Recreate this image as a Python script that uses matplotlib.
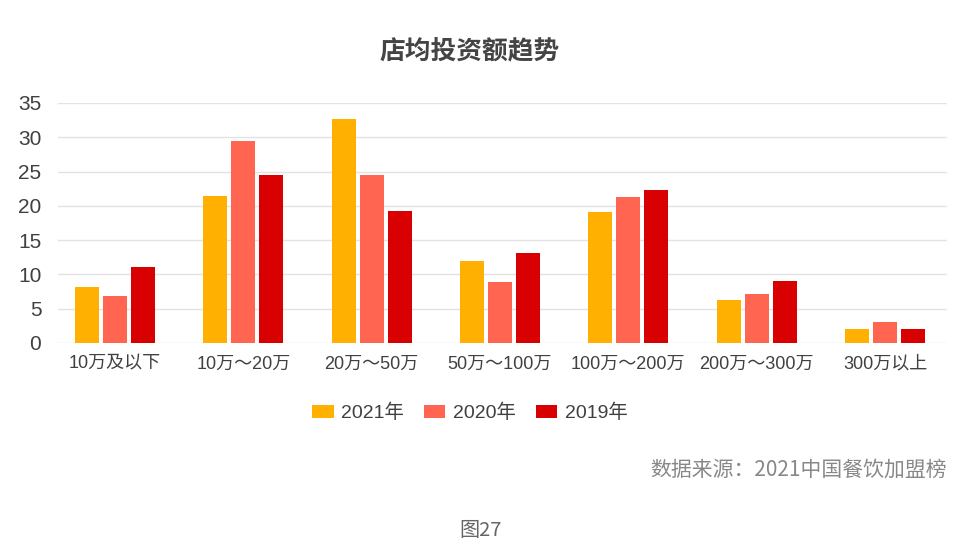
import matplotlib
matplotlib.use("Agg")
import matplotlib.pyplot as plt
import numpy as np

plt.rcParams['font.family'] = ['Liberation Sans', 'Noto Sans CJK SC']

categories = ['10万及以下', '10万～20万', '20万～50万', '50万～100万',
              '100万～200万', '200万～300万', '300万以上']
v2021 = [8.1, 21.4, 32.6, 12.0, 19.1, 6.2, 2.0]
v2020 = [6.9, 29.4, 24.5, 8.9, 21.3, 7.1, 3.0]
v2019 = [11.1, 24.5, 19.2, 13.1, 22.3, 9.1, 2.0]
series = [('2021年', v2021, '#FFB000'),
          ('2020年', v2020, '#FF6550'),
          ('2019年', v2019, '#D80000')]

fig = plt.figure(figsize=(9.67, 5.50), dpi=100)
ax = fig.add_axes([58/967, 1-343/550, 889/967, 240/550])

x = np.arange(len(categories))
w = 0.185
step = 0.218
for i, (name, vals, col) in enumerate(series):
    ax.bar(x + (i-1)*step, vals, width=w, color=col, label=name, zorder=3)

# group centres sit at ~115px and ~885px
spacing = (885 - 115) / 6
ax.set_xlim(-(115 - 58) / spacing, 6 + (947 - 885) / spacing)
ax.set_ylim(0, 35)
ax.set_yticks(range(0, 36, 5))
ax.yaxis.grid(True, color='#e3e3e3', linewidth=1, zorder=0)
for s in ax.spines.values():
    s.set_visible(False)
ax.tick_params(axis='both', length=0)
ax.tick_params(axis='y', labelsize=15, colors='#404040', pad=12)
ax.set_xticks(x)
ax.set_xticklabels(categories, fontsize=13, color='#404040')
ax.tick_params(axis='x', pad=9)

fig.text(0.486, 1-51/550, '店均投资额趋势', ha='center', va='center',
         fontsize=18.5, fontweight='bold', color='#444444',
         family='Noto Sans CJK SC')

fig.legend(loc='center', bbox_to_anchor=(0.486, 1-413/550), ncol=3,
           frameon=False, fontsize=14, handlelength=1.1, handleheight=0.6,
           columnspacing=1.0, handletextpad=0.4, labelcolor='#404040')

fig.text(947/967, 1-470/550, '数据来源：2021中国餐饮加盟榜', ha='right', va='center',
         fontsize=15, color='#888888', family='Noto Sans CJK SC')
fig.text(481/967, 1-530/550, '图27', ha='center', va='center',
         fontsize=14.5, color='#666666', family='Noto Sans CJK SC')

fig.savefig('out.png', dpi=100)
